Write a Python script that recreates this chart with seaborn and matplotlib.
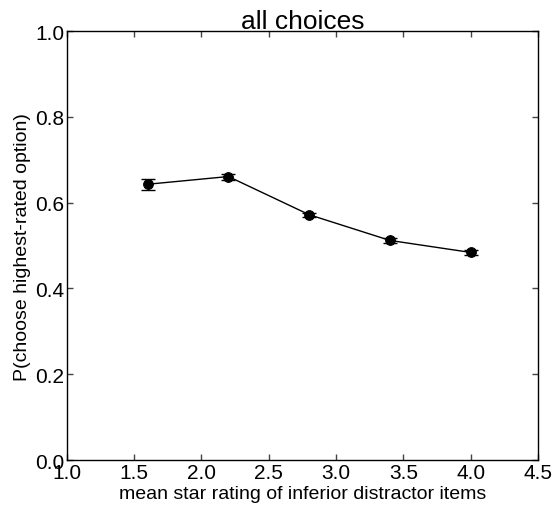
import matplotlib
matplotlib.use("Agg")
import matplotlib.pyplot as plt
import seaborn as sns
import numpy as np
import pandas as pd

ratings = [1.6, 2.2, 2.8, 3.4, 4.0]
p_highest = [0.643, 0.661, 0.572, 0.512, 0.484]
sem = [0.013, 0.007, 0.005, 0.005, 0.006]
xticks = [1.0, 1.5, 2.0, 2.5, 3.0, 3.5, 4.0, 4.5]
yticks = [0.0, 0.2, 0.4, 0.6, 0.8, 1.0]

sns.set_style("ticks")
plt.rcParams['font.family'] = ['Liberation Sans', 'DejaVu Sans']
plt.rcParams['text.color'] = 'black'
plt.rcParams['axes.labelcolor'] = 'black'
plt.rcParams['xtick.color'] = 'black'
plt.rcParams['ytick.color'] = 'black'

fig = plt.figure(figsize=(5.57, 5.10), dpi=100)
ax = fig.add_axes([0.120, 0.096, 0.846, 0.841])

df = pd.DataFrame({"rating": ratings, "p": p_highest})
sns.lineplot(data=df, x="rating", y="p", color="black", marker="o",
             markersize=7, linewidth=1, markeredgecolor="black", ax=ax)
ax.errorbar(ratings, p_highest, yerr=sem, fmt="none", ecolor="black",
            elinewidth=1, capsize=5, capthick=1)

ax.set_xlim(1.0, 4.5)
ax.set_ylim(0.0, 1.0)
ax.set_xticks(xticks)
ax.set_yticks(yticks)
ax.set_xticklabels([f"{v:.1f}" for v in xticks])
ax.set_yticklabels([f"{v:.1f}" for v in yticks])
ax.tick_params(direction="in", top=True, right=True, length=4, width=1,
               labelsize=15, pad=2, color="#444444", labelcolor="black")
for s in ax.spines.values():
    s.set_visible(True)
    s.set_linewidth(1)
    s.set_color("black")
ax.set_xlabel("mean star rating of inferior distractor items", fontsize=14, labelpad=2, color="black")
ax.set_ylabel("P(choose highest-rated option)", fontsize=14, labelpad=3, color="black")
ax.set_title("all choices", fontsize=19, pad=2, color="black")

fig.savefig("out.png", dpi=100)
